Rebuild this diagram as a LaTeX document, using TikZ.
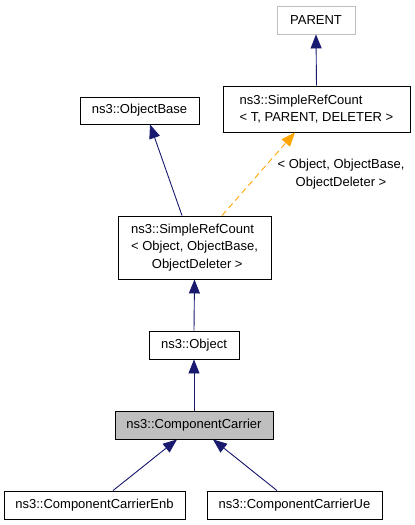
\documentclass[tikz,border=0pt]{standalone}
\usepackage{fontspec}
\setmainfont{Liberation Sans}
\usetikzlibrary{arrows.meta,calc}
\begin{document}
\begin{tikzpicture}[x=1pt,y=-1pt,
  cls/.style={draw=black,line width=0.9pt,fill=white,rectangle,inner sep=0pt,
    minimum height=28pt,font=\fontsize{13}{17.5}\selectfont},
  inh/.style={draw={rgb,255:red,25;green,25;blue,112},line width=0.9pt,
    -{Triangle[length=14pt,width=11pt]}},
  tmpl/.style={draw={rgb,255:red,255;green,165;blue,0},line width=0.9pt,dashed,
    dash pattern=on 6pt off 4pt,-{Triangle[length=14pt,width=11pt]}}]
\useasboundingbox[fill=white] (0,0) rectangle (415,525);
\node[cls,draw={rgb,255:red,191;green,191;blue,191},minimum width=78pt] (parent) at (316,20) {PARENT};
\node[cls,minimum width=187pt,minimum height=46pt,align=left] (srct) at (316.5,109) {ns3::SimpleRefCount\\< T, PARENT, DELETER >};
\node[cls,minimum width=119pt,minimum height=27pt] (objbase) at (139.5,110.5) {ns3::ObjectBase};
\node[cls,minimum width=153pt,minimum height=63pt,align=left] (srco) at (194.5,247.5) {ns3::SimpleRefCount\\< Object, ObjectBase,\\\hspace*{1.6em}ObjectDeleter >};
\node[cls,minimum width=90pt] (object) at (194,345) {ns3::Object};
\node[cls,minimum width=158pt,fill={rgb,255:red,191;green,191;blue,191}] (cc) at (194,425) {ns3::ComponentCarrier};
\node[cls,minimum width=181pt] (enb) at (94.5,505) {ns3::ComponentCarrierEnb};
\node[cls,minimum width=175pt] (ue) at (294.5,505) {ns3::ComponentCarrierUe};
\node[font=\fontsize{13}{18}\selectfont,align=center,inner sep=0pt] (lbl) at (341,174) {< Object, ObjectBase,\\ObjectDeleter >};
\draw[inh] (srct.north) -- (parent.south);
\draw[inh] ($(srco.north)+(-12.5,0)$) -- ($(objbase.south)+(10.5,0)$);
\draw[tmpl] ($(srco.north)+(27.5,0)$) -- ($(srct.south)+(-21.5,0)$);
\draw[inh] (object.north) -- (srco.south);
\draw[inh] (cc.north) -- (object.south);
\draw[inh] ($(enb.north)+(18.5,0)$) -- ($(cc.south)+(-17,0)$);
\draw[inh] ($(ue.north)+(-17.5,0)$) -- ($(cc.south)+(19,0)$);
\end{tikzpicture}
\end{document}
